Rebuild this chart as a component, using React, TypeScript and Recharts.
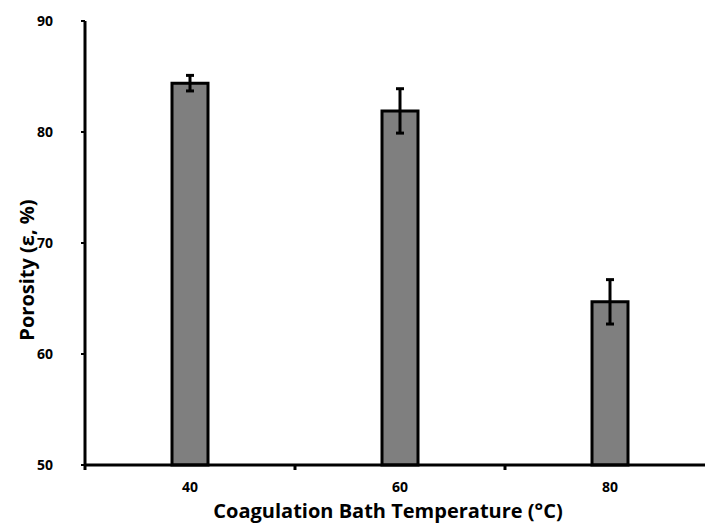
import React from "react";
import { BarChart, Bar, XAxis, YAxis, ErrorBar, Label } from "recharts";

const temperatures = ["40", "60", "80"];
const porosity = [84.4, 81.9, 64.7];
const porosityErr = [0.7, 2.0, 2.0];
const yTicks = [50, 60, 70, 80, 90];

const data = temperatures.map((t, i) => ({
  temp: t,
  porosity: porosity[i],
  err: porosityErr[i],
}));

const FONT = "'Open Sans', sans-serif";

const XTick = (props: any) => {
  const { x, y, payload } = props;
  const off = payload?.offset ?? 0;
  return (
    <g>
      <line x1={x - off} x2={x - off} y1={y} y2={y + 5} stroke="#000" strokeWidth={3} />
      <text x={x} y={y + 27} textAnchor="middle" fontFamily={FONT} fontWeight={700} fontSize={14} fill="#000">
        {payload.value}
      </text>
    </g>
  );
};

export default function App() {
  return (
    <div
      style={{
        position: "absolute",
        left: 0,
        top: 0,
        width: 705,
        height: 527,
        overflow: "hidden",
        background: "#fff",
      }}
    >
      <BarChart
        width={720}
        height={527}
        data={data}
        margin={{ top: 21, right: 5, left: 0, bottom: 0 }}
        barCategoryGap="41%"
      >
        <XAxis
          dataKey="temp"
          height={62}
          axisLine={{ stroke: "#000", strokeWidth: 3 }}
          tickLine={false}
          tickSize={0}
          tickMargin={0}
          tick={<XTick />}
          interval={0}
        >
          <Label
            content={() => (
              <text x={388} y={518} textAnchor="middle" fontFamily={FONT} fontWeight={700} fontSize={20} fill="#000">
                Coagulation Bath Temperature (°C)
              </text>
            )}
          />
        </XAxis>
        <YAxis
          width={85}
          domain={[50, 90]}
          ticks={yTicks}
          interval={0}
          axisLine={{ stroke: "#000", strokeWidth: 3 }}
          tickLine={{ stroke: "#000", strokeWidth: 2 }}
          tickSize={4}
          tickMargin={28}
          tick={{ fontFamily: FONT, fontWeight: 700, fontSize: 14, fill: "#000" }}
        >
          <Label
            content={() => (
              <text
                x={34}
                y={270}
                transform="rotate(-90 34 270)"
                textAnchor="middle"
                fontFamily={FONT}
                fontWeight={700}
                fontSize={20}
                fill="#000"
              >
                Porosity (ε, %)
              </text>
            )}
          />
        </YAxis>
        <Bar
          dataKey="porosity"
          fill="#7f7f7f"
          stroke="#000"
          strokeWidth={3}
          barSize={36}
          isAnimationActive={false}
        >
          <ErrorBar dataKey="err" width={4} stroke="#000" strokeWidth={3} direction="y" />
        </Bar>
      </BarChart>
    </div>
  );
}
